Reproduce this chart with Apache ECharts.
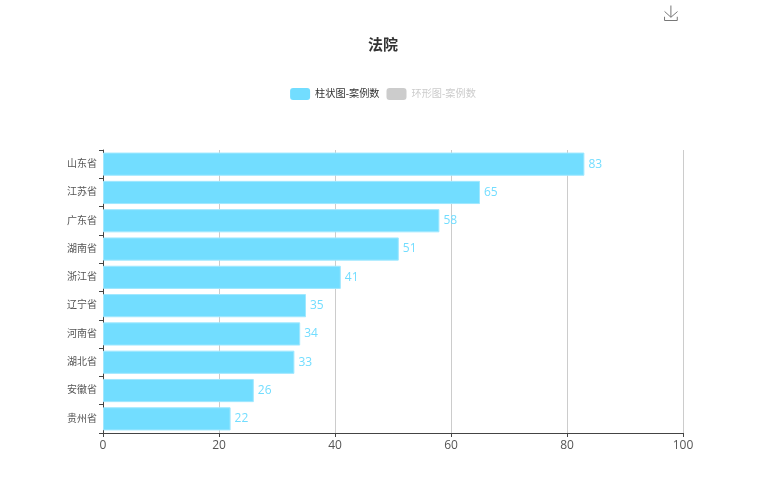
<!DOCTYPE html>
<html>
<head>
<meta charset="utf-8">
<style>
html, body { margin: 0; padding: 0; background: #fff; }
#chart { width: 766px; height: 500px; }
</style>
<script src="https://cdn.jsdelivr.net/npm/echarts@6/dist/echarts.min.js"></script>
</head>
<body>
<div id="chart"></div>
<script>
const provinces = ['山东省', '江苏省', '广东省', '湖南省', '浙江省', '辽宁省', '河南省', '湖北省', '安徽省', '贵州省'];
const caseCounts = [83, 65, 58, 51, 41, 35, 34, 33, 26, 22];
const barName = '柱状图-案例数';
const ringName = '环形图-案例数';

const fontFamily = '"Open Sans", "Noto Sans CJK SC", sans-serif';
const chart = echarts.init(document.getElementById('chart'));

const option = {
    animation: false,
    textStyle: { fontFamily },
    title: {
        text: '法院',
        left: 'center',
        top: 33,
        textStyle: { fontSize: 15, fontWeight: 'bold', color: '#333', fontFamily }
    },
    toolbox: {
        right: 71,
        top: -12,
        itemSize: 15,
        feature: { saveAsImage: { title: '' } },
        iconStyle: { borderColor: '#777' }
    },
    legend: {
        top: 83,
        left: 'center',
        itemWidth: 20,
        itemHeight: 12,
        itemGap: 7,
        itemStyle: { borderWidth: 0 },
        inactiveColor: '#ccc',
        textStyle: { fontSize: 10.2, color: '#333', fontFamily },
        selected: { [ringName]: false },
        data: [barName, ringName]
    },
    grid: { left: 103, right: 83, top: 150, bottom: 67, containLabel: false },
    xAxis: {
        type: 'value',
        min: 0,
        max: 100,
        interval: 20,
        axisLine: { show: true, lineStyle: { color: '#444' } },
        axisTick: { show: true, length: 4, lineStyle: { color: '#444' } },
        axisLabel: { color: '#555', fontSize: 12, margin: 7 },
        splitLine: { show: true, lineStyle: { color: '#ccc' } }
    },
    yAxis: {
        type: 'category',
        inverse: true,
        data: provinces,
        axisLine: { show: true, lineStyle: { color: '#444' } },
        axisTick: { show: true, length: 4, lineStyle: { color: '#444' } },
        axisLabel: { color: '#555', fontSize: 10, margin: 6 },
        splitLine: { show: false }
    },
    series: [
        {
            name: barName,
            type: 'bar',
            data: caseCounts,
            barWidth: '82%',
            itemStyle: { color: '#72ddff', borderColor: '#a0e8ff', borderWidth: 1 },
            label: { show: true, position: 'right', color: '#72ddff', fontSize: 12, distance: 4 }
        },
        {
            name: ringName,
            type: 'pie',
            radius: ['30%', '50%'],
            itemStyle: { color: '#72ddff' },
            data: provinces.map((p, i) => ({ name: p, value: caseCounts[i] }))
        }
    ]
};
chart.setOption(option);
</script>
</body>
</html>
